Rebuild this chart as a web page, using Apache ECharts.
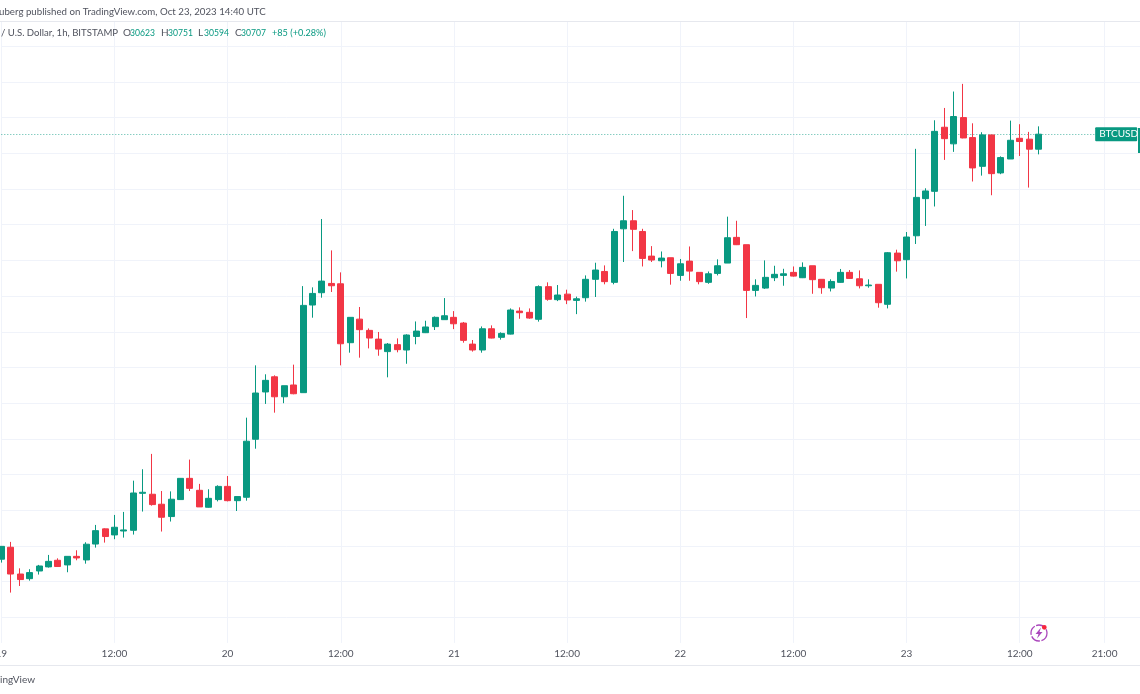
<!DOCTYPE html>
<html>
<head>
<meta charset="utf-8">
<style>html,body{margin:0;padding:0;background:#fff}#c{width:1140px;height:694px}</style>
<script src="https://cdn.jsdelivr.net/npm/echarts@6/dist/echarts.min.js"></script>
</head>
<body>
<div id="c"></div>
<script>
const opens=[28326,28393,28243,28217,28260,28283,28320,28294,28342,28322,
28411,28496,28462,28484,28488,28695,28690,28634,28565,28660,
28779,28712,28617,28660,28734,28654,28673,28998,29263,29348,
29236,29302,29259,29750,29819,29871,29869,29539,29671,29608,
29559,29489,29528,29498,29574,29595,29629,29668,29681,29649,
29531,29498,29617,29569,29587,29716,29709,29670,29853,29780,
29811,29776,29791,29894,29938,29877,30177,30222,30162,30024,
29998,30015,29916,29996,29933,29877,29927,29985,30129,30088,
29832,29845,29903,29916,29933,29903,29970,29894,29845,29877,
29933,29897,29858,29866,29754,30041,30004,30138,30346,30387,
30746,30653,30800,30688,30527,30703,30490,30568,30684,30679,30623];
const closes=[28398,28243,28212,28251,28288,28314,28285,28342,28333,28410,
28486,28453,28505,28490,28697,28701,28632,28561,28662,28779,
28723,28619,28667,28734,28654,28677,28987,29257,29328,29236,
29298,29253,29748,29815,29884,29858,29533,29681,29612,29565,
29503,29531,29500,29582,29604,29627,29681,29690,29645,29552,
29498,29617,29565,29591,29722,29707,29677,29853,29782,29806,
29778,29785,29894,29946,29881,30162,30222,30174,30011,30002,
30013,29927,29981,29940,29881,29925,29970,30127,30088,29832,
29860,29905,29922,29925,29912,29961,29892,29847,29882,29933,
29899,29858,29862,29763,30043,29998,30131,30353,30389,30723,
30682,30806,30686,30518,30703,30486,30576,30673,30666,30623,30707];
const lows=[28307,28139,28176,28206,28240,28279,28283,28253,28320,28301,
28391,28419,28438,28447,28464,28593,28626,28481,28537,28660,
28708,28619,28615,28650,28650,28596,28654,28945,29196,29147,
29200,29250,29259,29679,29791,29823,29412,29483,29455,29507,
29466,29345,29485,29421,29530,29593,29610,29668,29615,29539,
29489,29483,29563,29556,29585,29673,29673,29657,29774,29772,
29755,29699,29769,29795,29866,29866,29991,30052,29966,29991,
29961,29864,29886,29886,29866,29869,29916,29985,30086,29677,
29798,29840,29884,29858,29909,29901,29813,29813,29826,29875,
29897,29843,29847,29735,29731,29937,29899,30092,30193,30302,
30563,30608,30684,30442,30475,30365,30483,30568,30585,30408,30594];
const highs=[28398,28423,28275,28270,28294,28350,28331,28342,28376,28421,
28518,28499,28574,28591,28766,28830,28916,28708,28706,28779,
28884,28748,28718,28740,28792,28677,29119,29412,29362,29356,
29298,29416,29856,29849,30232,30056,29933,29681,29739,29619,
29599,29537,29563,29586,29658,29662,29686,29789,29716,29655,
29554,29630,29636,29597,29731,29737,29731,29860,29877,29862,
29836,29797,29916,29987,29972,30177,30362,30282,30177,30080,
30050,30015,30008,30078,29933,29938,30006,30245,30222,30088,
29894,30000,29970,29953,29966,29989,29970,29894,29894,29952,
29946,29944,29894,29866,30047,30060,30159,30625,30404,30785,
30854,30946,30989,30768,30718,30703,30583,30783,30763,30720,30751];

const slotCount=122;
const xTicks={0:'19',12:'12:00',24:'20',36:'12:00',48:'21',60:'12:00',72:'22',84:'12:00',96:'23',108:'12:00',117:'21:00'};
const lastPrice=30707, tagSlot=116, priceMin=27800, priceMax=31400, priceStep=200;
const paneTop=31338, paneBottom=27857;
const headerLine='uberg published on TradingView.com, Oct 23, 2023 14:40 UTC';
const symbolLine='/ U.S. Dollar, 1h, BITSTAMP';
const ohlcLetters=['O','H','L','C'];
const ohlcValues=['30623','30751','30594','30707'];
const changeText='+85 (+0.28%)';
const footer='ingView';
const tagText='BTCUSD';

const FONT='Lato';
const UP='#089981',DOWN='#F23645',GRID='#f0f3fa',TEXT='#50535e';

const categories=Array.from({length:slotCount},(_,i)=>String(i));
const candles=opens.map((o,i)=>[o,closes[i],lows[i],highs[i]]);

const vLines=Object.keys(xTicks).map(k=>[
  {xAxis:+k,yAxis:paneTop,lineStyle:{color:GRID,width:1,type:'solid'},label:{show:false}},
  {xAxis:+k,yAxis:paneBottom}
]);
const priceLine=[
  {xAxis:0,yAxis:lastPrice,lineStyle:{color:'rgba(8,153,129,0.7)',width:1,type:[1,2]},
   label:{show:true,position:'end',distance:0,formatter:tagText,color:'#fff',backgroundColor:UP,
          fontFamily:FONT,fontSize:10,width:36,align:'left',padding:[2,2,2,4],borderRadius:1}},
  {xAxis:tagSlot,yAxis:lastPrice}
];

const txt=(x,y,s,fill,sx)=>({type:'text',x,y,silent:true,z:20,scaleX:sx||0.97,
  style:{text:s,fill:fill,font:'10px '+FONT,textVerticalAlign:'middle'}});
const ohlcX=[[123,130],[161,168],[198,204],[235,241]];
const ohlcTexts=[];
ohlcLetters.forEach((l,i)=>{
  ohlcTexts.push(txt(ohlcX[i][0],33,l,TEXT,1));
  ohlcTexts.push(txt(ohlcX[i][1],33,ohlcValues[i],UP,0.86));
});

const chart=echarts.init(document.getElementById('c'),null,{renderer:'canvas'});
chart.setOption({
  animation:false,
  backgroundColor:'#fff',
  grid:{left:1.3,top:10.5,width:1141.03,height:642.6,outerBoundsMode:'none'},
  xAxis:{type:'category',data:categories,boundaryGap:false,
    axisLine:{show:false},axisTick:{show:false},splitLine:{show:false},
    axisLabel:{interval:i=>i in xTicks,formatter:(v,i)=>xTicks[i],hideOverlap:false,
      showMinLabel:true,color:TEXT,fontFamily:FONT,fontSize:10,margin:-4}},
  yAxis:{type:'value',min:priceMin,max:priceMax,interval:priceStep,
    axisLine:{show:false},axisTick:{show:false},axisLabel:{show:false},
    splitLine:{show:true,showMinLine:false,showMaxLine:false,lineStyle:{color:GRID,width:1}}},
  series:[{type:'candlestick',data:candles,barWidth:6.5,clip:false,
    itemStyle:{color:UP,color0:DOWN,borderColor:UP,borderColor0:DOWN,borderWidth:1},
    markLine:{silent:true,symbol:'none',animation:false,z:1,data:vLines.concat([priceLine])}}],
  graphic:[
    {type:'rect',silent:true,z:10,shape:{x:0,y:21,width:1140,height:1},style:{fill:'#e6e8ee'}},
    {type:'rect',silent:true,z:10,shape:{x:0,y:665,width:1140,height:1},style:{fill:'#e6e8ee'}},
    {type:'rect',silent:true,z:10,shape:{x:1138,y:128,width:2,height:25},style:{fill:UP}},
    txt(-1,11.5,headerLine,TEXT),
    txt(1,33,symbolLine,TEXT,0.96),
    ...ohlcTexts,
    txt(272,33,changeText,UP,0.915),
    txt(0,680,footer,TEXT,1),
    {type:'circle',silent:true,z:15,shape:{cx:1039,cy:633,r:8},
      style:{fill:'none',stroke:'#ab47bc',lineWidth:1.3,lineDash:[10,1.5]}},
    {type:'polygon',silent:true,z:16,shape:{points:[[1041,627.5],[1035.5,634],[1038.5,634],[1037,638.5],[1042.5,632],[1039.5,632]]},
      style:{fill:'#ab47bc'}},
    {type:'circle',silent:true,z:17,shape:{cx:1044.3,cy:627.3,r:2.4},style:{fill:'#f7253c'}}
  ]
});
</script>
</body>
</html>
